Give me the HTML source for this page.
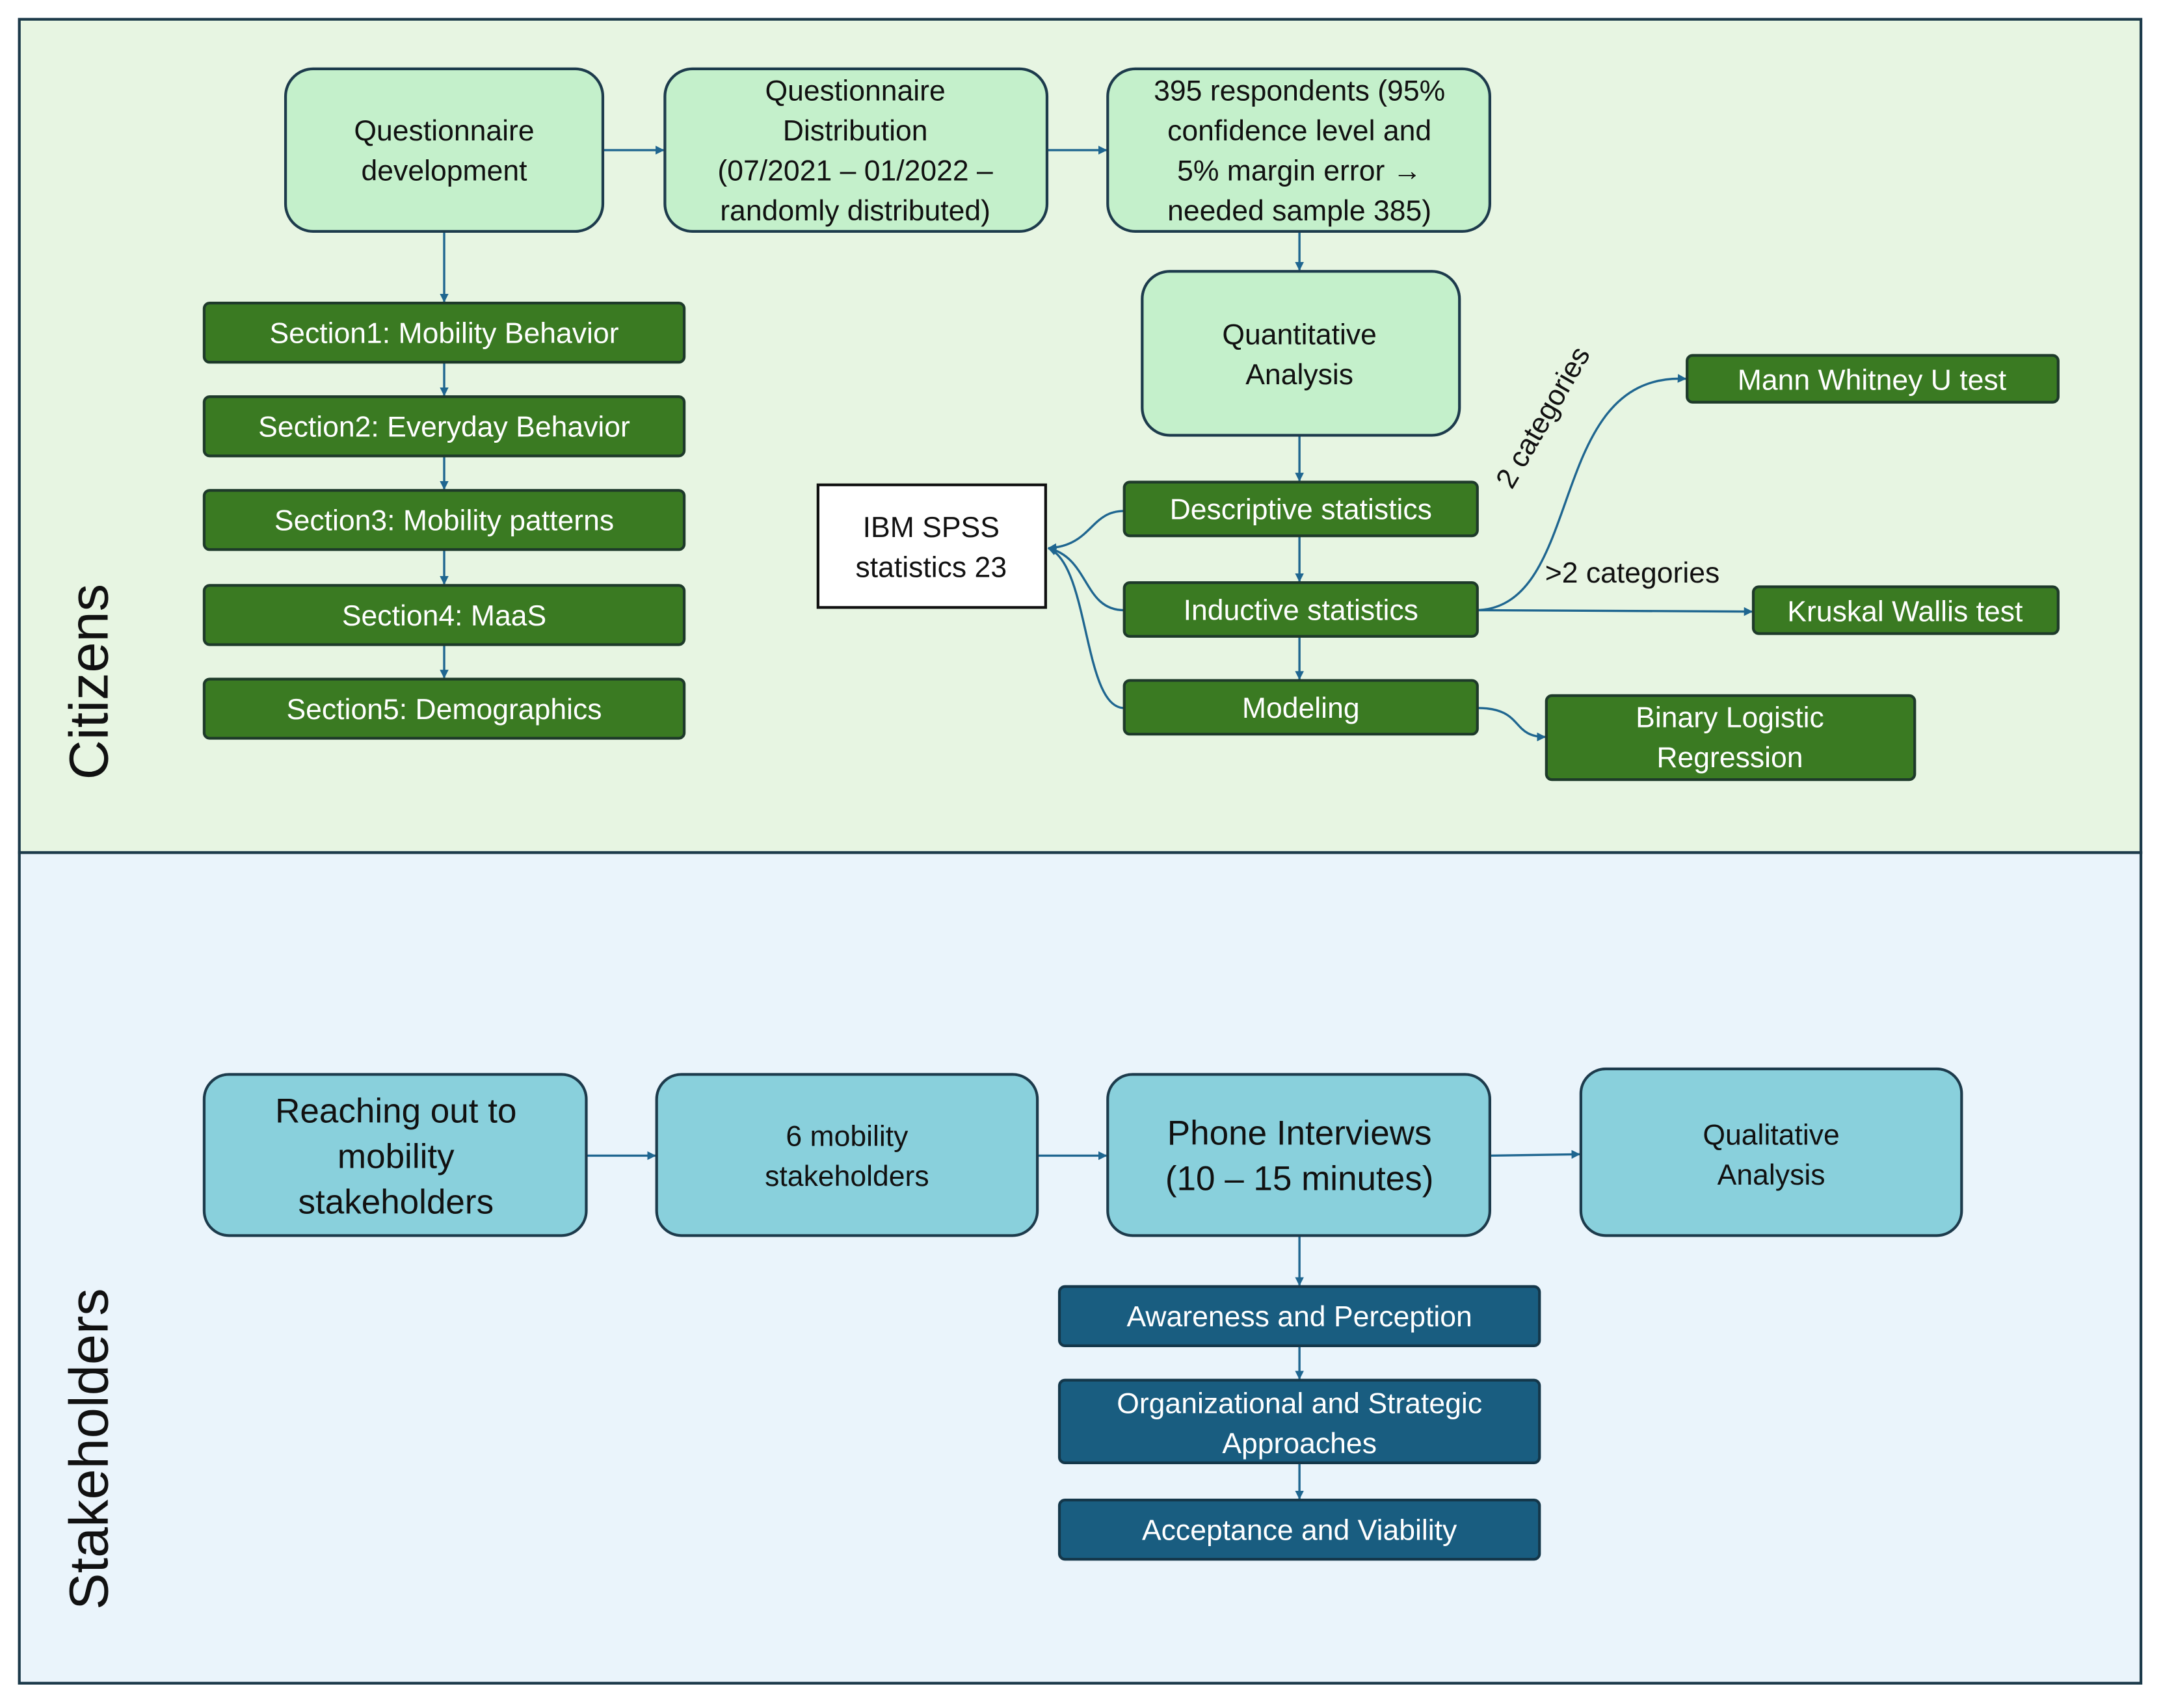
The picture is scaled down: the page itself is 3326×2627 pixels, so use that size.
<!DOCTYPE html>
<html><head><meta charset="utf-8"><style>
html,body{margin:0;padding:0;background:#fff;}
svg{display:block;}
text{font-family:"Liberation Sans",sans-serif;}
</style></head><body>
<svg width="3326" height="2627" viewBox="0 0 1568 1240" preserveAspectRatio="none" xmlns="http://www.w3.org/2000/svg">
<defs>
<marker id="a" viewBox="0 0 10 10" refX="9" refY="5" markerWidth="4" markerHeight="4" orient="auto"><path d="M0,0 L10,5 L0,10 z" fill="#1f6690"/></marker>
</defs>
<rect x="0" y="0" width="1568" height="1240" fill="#fff"/>
<rect x="14" y="14" width="1538" height="605" fill="#e7f5e2" stroke="#1c3a4a" stroke-width="2"/>
<rect x="14" y="619" width="1538" height="603" fill="#eaf4fb" stroke="#1c3a4a" stroke-width="2"/>
<text transform="translate(78,495) rotate(-90)" text-anchor="middle" font-size="40" fill="#111">Citizens</text>
<text transform="translate(78,1052) rotate(-90)" text-anchor="middle" font-size="40" fill="#111">Stakeholders</text>

<g fill="none" stroke="#1f6690" stroke-width="1.6">
<path d="M437,109 H481" marker-end="url(#a)"/>
<path d="M759,109 H802" marker-end="url(#a)"/>
<path d="M942,168 V196" marker-end="url(#a)"/>
<path d="M322,168 V219" marker-end="url(#a)"/>
<path d="M322,263 V287" marker-end="url(#a)"/>
<path d="M322,331 V355" marker-end="url(#a)"/>
<path d="M322,399 V424" marker-end="url(#a)"/>
<path d="M322,468 V492" marker-end="url(#a)"/>
<path d="M942,316 V349" marker-end="url(#a)"/>
<path d="M942,389 V422" marker-end="url(#a)"/>
<path d="M942,462 V493" marker-end="url(#a)"/>
<path d="M815,371 C790,371 792,396 760,398" marker-end="url(#a)"/>
<path d="M815,443 C785,443 790,405 760,398" marker-end="url(#a)"/>
<path d="M815,514 C785,514 790,410 760,398" marker-end="url(#a)"/>
<path d="M1071,443 C1150,440 1120,270 1222,275" marker-end="url(#a)"/>
<path d="M1071,443 L1270,444" marker-end="url(#a)"/>
<path d="M1071,514 C1105,514 1095,535 1120,535" marker-end="url(#a)"/>
<path d="M425,839 H475" marker-end="url(#a)"/>
<path d="M752,839 H802" marker-end="url(#a)"/>
<path d="M1080,839 L1145,838" marker-end="url(#a)"/>
<path d="M942,897 V933" marker-end="url(#a)"/>
<path d="M942,977 V1001" marker-end="url(#a)"/>
<path d="M942,1062 V1088" marker-end="url(#a)"/>
</g>

<g stroke="#1d3b4c" stroke-width="2" fill="#c4f0cb">
<rect x="207" y="50" width="230" height="118" rx="20"/>
<rect x="482" y="50" width="277" height="118" rx="20"/>
<rect x="803" y="50" width="277" height="118" rx="20"/>
<rect x="828" y="197" width="230" height="119" rx="20"/>
</g>
<g fill="#111" font-size="21" text-anchor="middle">
<text x="322" y="102">Questionnaire</text><text x="322" y="131">development</text>
<text x="620" y="73">Questionnaire</text><text x="620" y="102">Distribution</text><text x="620" y="131">(07/2021 – 01/2022 –</text><text x="620" y="160">randomly distributed)</text>
<text x="942" y="73">395 respondents (95%</text><text x="942" y="102">confidence level and</text><text x="942" y="131">5% margin error →</text><text x="942" y="160">needed sample 385)</text>
<text x="942" y="250">Quantitative</text><text x="942" y="279">Analysis</text>
</g>

<g stroke="#1e3a2a" stroke-width="2" fill="#3a7a22">
<rect x="148" y="220" width="348" height="43" rx="4"/>
<rect x="148" y="288" width="348" height="43" rx="4"/>
<rect x="148" y="356" width="348" height="43" rx="4"/>
<rect x="148" y="425" width="348" height="43" rx="4"/>
<rect x="148" y="493" width="348" height="43" rx="4"/>
<rect x="815" y="350" width="256" height="39" rx="4"/>
<rect x="815" y="423" width="256" height="39" rx="4"/>
<rect x="815" y="494" width="256" height="39" rx="4"/>
<rect x="1223" y="258" width="269" height="34" rx="4"/>
<rect x="1271" y="426" width="221" height="34" rx="4"/>
<rect x="1121" y="505" width="267" height="61" rx="4"/>
</g>
<g fill="#fff" font-size="21" text-anchor="middle">
<text x="322" y="249">Section1: Mobility Behavior</text>
<text x="322" y="317">Section2: Everyday Behavior</text>
<text x="322" y="385">Section3: Mobility patterns</text>
<text x="322" y="454">Section4: MaaS</text>
<text x="322" y="522">Section5: Demographics</text>
<text x="943" y="377">Descriptive statistics</text>
<text x="943" y="450">Inductive statistics</text>
<text x="943" y="521">Modeling</text>
<text x="1357" y="283">Mann Whitney U test</text>
<text x="1381" y="451">Kruskal Wallis test</text>
<text x="1254" y="528">Binary Logistic</text><text x="1254" y="557">Regression</text>
</g>

<rect x="593" y="352" width="165" height="89" fill="#fff" stroke="#111" stroke-width="2"/>
<text x="675" y="390" font-size="21" text-anchor="middle" fill="#111">IBM SPSS</text>
<text x="675" y="419" font-size="21" text-anchor="middle" fill="#111">statistics 23</text>
<text transform="translate(1096,356) rotate(-60)" font-size="21" fill="#111">2 categories</text>
<text x="1120" y="423" font-size="21" fill="#111">&gt;2 categories</text>

<g stroke="#1d3b4c" stroke-width="2" fill="#89d0dc">
<rect x="148" y="780" width="277" height="117" rx="18"/>
<rect x="476" y="780" width="276" height="117" rx="18"/>
<rect x="803" y="780" width="277" height="117" rx="18"/>
<rect x="1146" y="776" width="276" height="121" rx="18"/>
</g>
<g fill="#111" text-anchor="middle">
<text x="287" y="815" font-size="25">Reaching out to</text><text x="287" y="848" font-size="25">mobility</text><text x="287" y="881" font-size="25">stakeholders</text>
<text x="614" y="832" font-size="21">6 mobility</text><text x="614" y="861" font-size="21">stakeholders</text>
<text x="942" y="831" font-size="25">Phone Interviews</text><text x="942" y="864" font-size="25">(10 – 15 minutes)</text>
<text x="1284" y="831" font-size="21">Qualitative</text><text x="1284" y="860" font-size="21">Analysis</text>
</g>

<g stroke="#14374a" stroke-width="2" fill="#195d80">
<rect x="768" y="934" width="348" height="43" rx="4"/>
<rect x="768" y="1002" width="348" height="60" rx="4"/>
<rect x="768" y="1089" width="348" height="43" rx="4"/>
</g>
<g fill="#fff" font-size="21" text-anchor="middle">
<text x="942" y="963">Awareness and Perception</text>
<text x="942" y="1026">Organizational and Strategic</text><text x="942" y="1055">Approaches</text>
<text x="942" y="1118">Acceptance and Viability</text>
</g>
</svg>
</body></html>
